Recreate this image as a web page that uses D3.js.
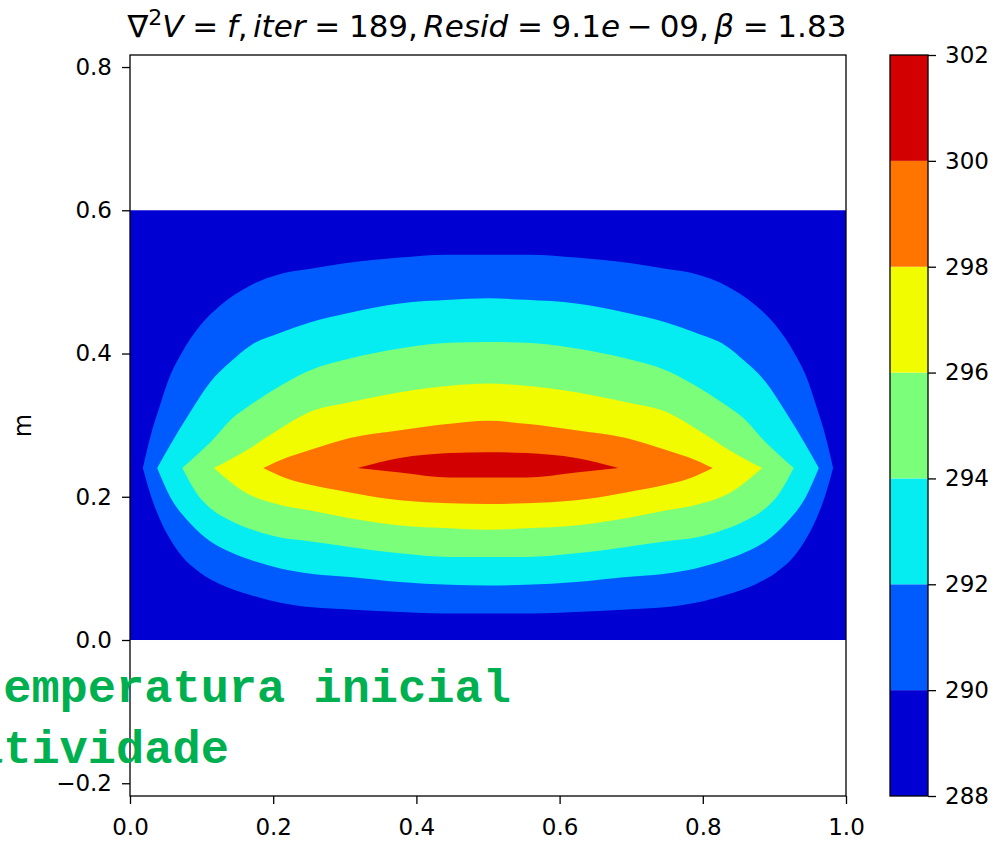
<!DOCTYPE html>
<html lang="en">
<head>
<meta charset="utf-8">
<title>Contour</title>
<script src="https://cdn.jsdelivr.net/npm/d3@7"></script>
<style>
  body { margin: 0; background: #fff; }
  text { font-family: "DejaVu Sans", sans-serif; fill: #000; }
</style>
</head>
<body>
<svg id="chart" width="998" height="841"></svg>
<script>
// contour levels (K) and the band colours between them (jet)
var levels = [288, 290, 292, 294, 296, 298, 300, 302];
var bandColors = ["#0000d2", "#005bff", "#06edf1", "#7bff7b", "#f1fc00", "#ff7500", "#d20000"];

// each contour: x positions (m), upper edge y and lower edge y
var x290 = [0.018, 0.028, 0.042, 0.056, 0.07, 0.098, 0.126, 0.168, 0.21, 0.25, 0.3, 0.377, 0.44, 0.5, 0.56, 0.623, 0.7, 0.75, 0.79, 0.832, 0.874, 0.902, 0.93, 0.944, 0.958, 0.972, 0.982];
var top290 = [0.24, 0.282, 0.328, 0.369, 0.397, 0.439, 0.467, 0.495, 0.511, 0.518, 0.526, 0.534, 0.538, 0.538, 0.538, 0.534, 0.526, 0.518, 0.511, 0.495, 0.467, 0.439, 0.397, 0.369, 0.328, 0.282, 0.24];
var bot290 = [0.24, 0.205, 0.168, 0.141, 0.12, 0.094, 0.078, 0.063, 0.052, 0.046, 0.043, 0.039, 0.037, 0.037, 0.037, 0.039, 0.043, 0.046, 0.052, 0.063, 0.078, 0.094, 0.12, 0.141, 0.168, 0.205, 0.24];

var x292 = [0.038, 0.056, 0.084, 0.112, 0.14, 0.168, 0.21, 0.25, 0.307, 0.377, 0.447, 0.5, 0.553, 0.623, 0.693, 0.75, 0.79, 0.832, 0.86, 0.888, 0.916, 0.944, 0.962];
var top292 = [0.24, 0.272, 0.318, 0.36, 0.388, 0.411, 0.429, 0.443, 0.457, 0.47, 0.475, 0.477, 0.475, 0.47, 0.457, 0.443, 0.429, 0.411, 0.388, 0.36, 0.318, 0.272, 0.24];
var bot292 = [0.24, 0.2, 0.163, 0.138, 0.123, 0.112, 0.1, 0.093, 0.088, 0.081, 0.077, 0.076, 0.077, 0.081, 0.088, 0.093, 0.1, 0.112, 0.123, 0.138, 0.163, 0.2, 0.24];

var x294 = [0.073, 0.093, 0.116, 0.14, 0.168, 0.21, 0.25, 0.307, 0.377, 0.447, 0.5, 0.553, 0.623, 0.693, 0.75, 0.79, 0.832, 0.86, 0.884, 0.907, 0.927];
var top294 = [0.24, 0.258, 0.28, 0.307, 0.328, 0.355, 0.376, 0.393, 0.407, 0.415, 0.416, 0.415, 0.407, 0.393, 0.376, 0.355, 0.328, 0.307, 0.28, 0.258, 0.24];
var bot294 = [0.24, 0.205, 0.181, 0.167, 0.155, 0.143, 0.138, 0.13, 0.121, 0.116, 0.116, 0.116, 0.121, 0.13, 0.138, 0.143, 0.155, 0.167, 0.181, 0.205, 0.24];

var x296 = [0.117, 0.163, 0.205, 0.25, 0.307, 0.377, 0.447, 0.5, 0.553, 0.623, 0.693, 0.75, 0.795, 0.837, 0.883];
var top296 = [0.24, 0.265, 0.292, 0.318, 0.332, 0.346, 0.355, 0.358, 0.355, 0.346, 0.332, 0.318, 0.292, 0.265, 0.24];
var bot296 = [0.24, 0.205, 0.19, 0.181, 0.17, 0.16, 0.156, 0.154, 0.156, 0.16, 0.17, 0.181, 0.19, 0.205, 0.24];

var x298 = [0.186, 0.22, 0.25, 0.307, 0.377, 0.447, 0.5, 0.553, 0.623, 0.693, 0.75, 0.78, 0.814];
var top298 = [0.24, 0.255, 0.265, 0.282, 0.293, 0.302, 0.306, 0.302, 0.293, 0.282, 0.265, 0.255, 0.24];
var bot298 = [0.24, 0.225, 0.217, 0.206, 0.195, 0.191, 0.19, 0.191, 0.195, 0.206, 0.217, 0.225, 0.24];

var x300 = [0.318, 0.377, 0.447, 0.5, 0.553, 0.623, 0.682];
var top300 = [0.24, 0.254, 0.261, 0.262, 0.261, 0.254, 0.24];
var bot300 = [0.24, 0.234, 0.227, 0.227, 0.227, 0.234, 0.24];

// plate extent (m)
var plateX = [0, 1];
var plateY = [0, 0.6];

var xTicks = [0.0, 0.2, 0.4, 0.6, 0.8, 1.0];
var yTicks = [-0.2, 0.0, 0.2, 0.4, 0.6, 0.8];
var cbTicks = [288, 290, 292, 294, 296, 298, 300, 302];
var noteLines = ["temperatura inicial", "atividade"];

var svg = d3.select("#chart");

// NB: "top" is a reserved window property, so plot edges get their own names
var plotL = 130, plotR = 846, plotT = 55, plotB = 796;
var x = d3.scaleLinear().domain([0, 1]).range([plotL, plotR]);
var y = d3.scaleLinear().domain([-0.2178, 0.8168]).range([plotB, plotT]);

// plate = lowest band
svg.append("rect")
  .attr("x", x(plateX[0])).attr("y", y(plateY[1]))
  .attr("width", x(plateX[1]) - x(plateX[0]))
  .attr("height", y(plateY[0]) - y(plateY[1]))
  .attr("fill", bandColors[0]);

var contours = [
  { xs: x290, t: top290, b: bot290 },
  { xs: x292, t: top292, b: bot292 },
  { xs: x294, t: top294, b: bot294 },
  { xs: x296, t: top296, b: bot296 },
  { xs: x298, t: top298, b: bot298 },
  { xs: x300, t: top300, b: bot300 }
];

var area = d3.area()
  .x(function(d) { return x(d[0]); })
  .y0(function(d) { return y(d[2]); })
  .y1(function(d) { return y(d[1]); })
  .curve(d3.curveMonotoneX);

contours.forEach(function(c, i) {
  var pts = c.xs.map(function(v, k) { return [v, c.t[k], c.b[k]]; });
  svg.append("path")
    .attr("d", area(pts))
    .attr("fill", bandColors[i + 1]);
});

// axes
var fmt = function(d) { return d3.format(".1f")(d).replace("-", "\u2212"); };
var xAxis = d3.axisBottom(x).tickValues(xTicks).tickFormat(fmt).tickSizeOuter(0).tickSize(8);
var yAxis = d3.axisLeft(y).tickValues(yTicks).tickFormat(fmt).tickSizeOuter(0).tickSize(8).tickPadding(10);

var gx = svg.append("g").attr("transform", "translate(0," + plotB + ")").call(xAxis);
var gy = svg.append("g").attr("transform", "translate(" + plotL + ",0)").call(yAxis);
[gx, gy].forEach(function(g) {
  g.select(".domain").remove();
  g.selectAll("text").style("font-size", "23px").style("font-family", "DejaVu Sans").attr("fill", "#000");
  g.selectAll("line").attr("stroke", "#000").attr("stroke-width", 1.3);
});
gx.selectAll("text").attr("y", 39).attr("dy", null);

svg.append("rect")
  .attr("x", plotL).attr("y", plotT)
  .attr("width", plotR - plotL).attr("height", plotB - plotT)
  .attr("fill", "none").attr("stroke", "#000").attr("stroke-width", 1.3);

// y label
svg.append("text")
  .attr("transform", "translate(31," + ((plotT + plotB) / 2) + ") rotate(-90)")
  .attr("text-anchor", "middle")
  .style("font-size", "24px")
  .text("m");

// title (mathtext style: italic symbols, spaced relations)
var title = svg.append("text")
  .attr("x", (plotL + plotR) / 2 - 1).attr("y", 37)
  .attr("text-anchor", "middle")
  .style("font-size", "31px");
var rel = 0.28, bin = 0.22, punct = 0.17;
var parts = [
  ["\u2207", "n", 0], ["2", "sup", 0], ["V", "i", 0], ["=", "n", rel], ["f", "i", rel], [",", "n", 0],
  ["iter", "i", punct], ["=", "n", rel], ["189", "n", rel], [",", "n", 0],
  ["Resid", "i", punct], ["=", "n", rel], ["9.1", "n", rel], ["e", "i", 0],
  ["\u2212", "n", bin], ["09", "n", bin], [",", "n", 0], ["\u03b2", "i", punct],
  ["=", "n", rel], ["1.83", "n", rel]
];
var raised = false;
parts.forEach(function(p) {
  var ts = title.append("tspan").text(p[0]);
  var dx = p[2] ? p[2] + "em" : null;
  if (p[1] === "i") ts.style("font-style", "italic");
  if (p[1] === "sup") { ts.style("font-size", "22px").attr("dy", -12); raised = true; }
  else if (raised) { ts.attr("dy", 12); raised = false; }
  if (dx) ts.attr("dx", dx);
});

// colorbar
var cbL = 890, cbR = 928;
var c = d3.scaleLinear().domain([288, 302]).range([plotB, plotT]);
for (var i = 0; i < bandColors.length; i++) {
  svg.append("rect")
    .attr("x", cbL).attr("y", c(levels[i + 1]))
    .attr("width", cbR - cbL).attr("height", c(levels[i]) - c(levels[i + 1]))
    .attr("fill", bandColors[i]);
}
svg.append("rect")
  .attr("x", cbL).attr("y", plotT).attr("width", cbR - cbL).attr("height", plotB - plotT)
  .attr("fill", "none").attr("stroke", "#000").attr("stroke-width", 1.3);
var gc = svg.append("g").attr("transform", "translate(" + cbR + ",0)")
  .call(d3.axisRight(c).tickValues(cbTicks).tickSize(8).tickPadding(9).tickSizeOuter(0));
gc.select(".domain").remove();
gc.selectAll("text").style("font-size", "23px").style("font-family", "DejaVu Sans").attr("fill", "#000");
gc.selectAll("line").attr("stroke", "#000").attr("stroke-width", 1.3);

// overlaid green note (runs off the left edge, as in the source image)
svg.selectAll("text.note").data(noteLines).enter().append("text")
  .attr("class", "note")
  .attr("x", -25)
  .attr("y", function(d, i) { return 702 + i * 61; })
  .style("font-family", "'Courier New', 'Liberation Mono', monospace")
  .style("font-weight", "bold")
  .style("font-size", "47px")
  .style("fill", "#00b050")
  .text(function(d) { return d; });
</script>
</body>
</html>
